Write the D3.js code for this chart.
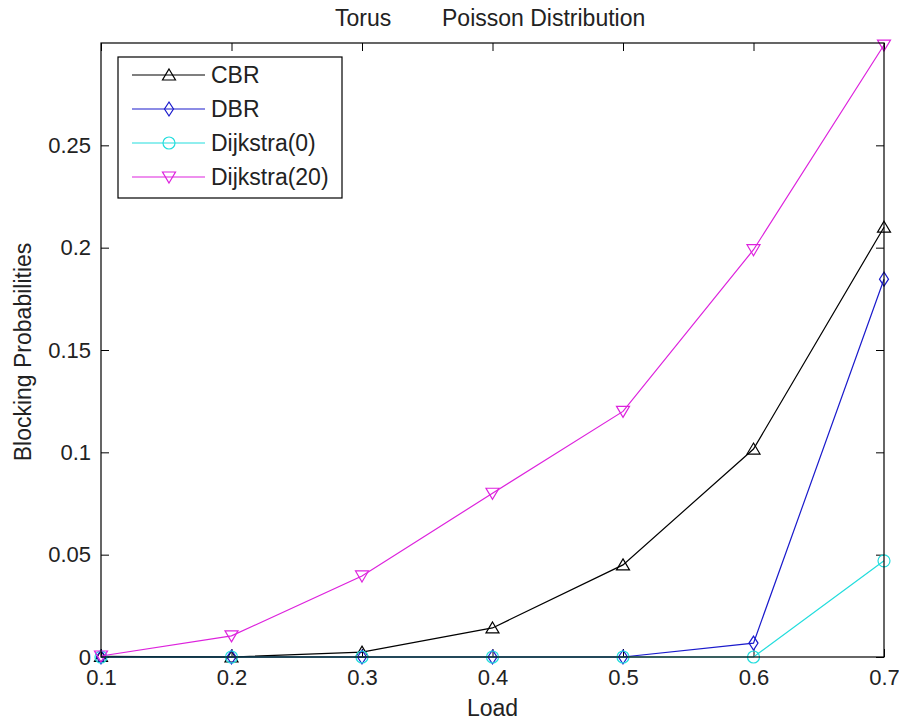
<!DOCTYPE html>
<html><head><meta charset="utf-8">
<script src="https://cdn.jsdelivr.net/npm/d3@7"></script>
<style>body{margin:0;background:#fff}svg{display:block}text{font-family:"Liberation Sans",Arial,sans-serif;fill:#222}</style>
</head><body>
<svg id="c" width="899" height="722"></svg>
<script>
const loads = [0.1, 0.2, 0.3, 0.4, 0.5, 0.6, 0.7];
const cbr = [0.0003, 0, 0.0024, 0.0142, 0.045, 0.1016, 0.21];
const dbr = [0, 0, 0, 0, 0, 0.0068, 0.1846];
const dijkstra0 = [0, 0, 0, 0, 0, 0, 0.047];
const dijkstra20 = [0.0005, 0.0103, 0.0396, 0.080, 0.120, 0.199, 0.299];
const seriesNames = ["CBR", "DBR", "Dijkstra(0)", "Dijkstra(20)"];
const xTicks = [0.1, 0.2, 0.3, 0.4, 0.5, 0.6, 0.7];
const yTicks = [0, 0.05, 0.1, 0.15, 0.2, 0.25];
const titleLeft = "Torus", titleRight = "Poisson Distribution";
const xLabel = "Load", yLabel = "Blocking Probabilities";

const series = [
  {name: seriesNames[0], values: cbr, color: "#000000", marker: "up"},
  {name: seriesNames[1], values: dbr, color: "#1a1acc", marker: "diamond"},
  {name: seriesNames[2], values: dijkstra0, color: "#22dddd", marker: "circle"},
  {name: seriesNames[3], values: dijkstra20, color: "#dd22dd", marker: "down"}
];

const L = 101, R = 884, T = 43, B = 657;
const svg = d3.select("#c");
const x = d3.scaleLinear().domain([0.1, 0.7]).range([L, R]);
const y = d3.scaleLinear().domain([0, 0.3]).range([B, T]);
const fs = 23, tfs = 22;

function markerPath(type) {
  switch (type) {
    case "up": return "M0,-6L6.5,5L-6.5,5Z";
    case "down": return "M0,6L6.5,-5L-6.5,-5Z";
    case "diamond": return "M0,-7L4.5,0L0,7L-4.5,0Z";
    default: return null;
  }
}
function drawMarker(g, type, cx, cy, color) {
  if (type === "circle") {
    g.append("circle").attr("cx", cx).attr("cy", cy).attr("r", 6)
      .attr("fill", "none").attr("stroke", color).attr("stroke-width", 1.2);
  } else {
    g.append("path").attr("d", markerPath(type)).attr("transform", `translate(${cx},${cy})`)
      .attr("fill", "none").attr("stroke", color).attr("stroke-width", 1.2);
  }
}

const fmt = d => String(d);
svg.append("g").attr("transform", `translate(0,${B})`)
  .call(d3.axisBottom(x).tickValues(xTicks).tickSize(-8).tickPadding(12).tickFormat(fmt))
  .call(g => { g.select(".domain").remove(); g.selectAll("line").attr("stroke", "#000");
    g.selectAll("text").attr("font-size", tfs).attr("font-family", "Liberation Sans, Arial").attr("fill", "#222"); });
svg.append("g").attr("transform", `translate(0,${T})`)
  .call(d3.axisTop(x).tickValues(xTicks).tickSize(-8).tickFormat(""))
  .call(g => { g.select(".domain").remove(); g.selectAll("line").attr("stroke", "#000"); });
svg.append("g").attr("transform", `translate(${L},0)`)
  .call(d3.axisLeft(y).tickValues(yTicks).tickSize(-8).tickPadding(10).tickFormat(fmt))
  .call(g => { g.select(".domain").remove(); g.selectAll("line").attr("stroke", "#000");
    g.selectAll("text").attr("font-size", tfs).attr("font-family", "Liberation Sans, Arial").attr("fill", "#222"); });
svg.append("g").attr("transform", `translate(${R},0)`)
  .call(d3.axisRight(y).tickValues(yTicks).tickSize(-8).tickFormat(""))
  .call(g => { g.select(".domain").remove(); g.selectAll("line").attr("stroke", "#000"); });

const line = d3.line().x((d, i) => x(loads[i])).y(d => y(d));
series.forEach(s => {
  const g = svg.append("g");
  g.append("path").datum(s.values).attr("d", line).attr("fill", "none")
    .attr("stroke", s.color).attr("stroke-width", 1.2);
  s.values.forEach((v, i) => drawMarker(g, s.marker, x(loads[i]), y(v), s.color));
});

svg.append("rect").attr("x", L).attr("y", T).attr("width", R - L).attr("height", B - T)
  .attr("fill", "none").attr("stroke", "#000").attr("stroke-width", 1.2);

const lg = svg.append("g");
lg.append("rect").attr("x", 118).attr("y", 57).attr("width", 224).attr("height", 141)
  .attr("fill", "#fff").attr("stroke", "#000").attr("stroke-width", 1.2);
series.forEach((s, i) => {
  const yy = 75 + i * 34;
  lg.append("line").attr("x1", 132).attr("x2", 205).attr("y1", yy).attr("y2", yy)
    .attr("stroke", s.color).attr("stroke-width", 1.2);
  drawMarker(lg, s.marker, 169, yy, s.color);
  lg.append("text").attr("x", 211).attr("y", yy + 8).attr("font-size", fs).text(s.name);
});

svg.append("text").attr("x", 335).attr("y", 26).attr("font-size", fs).text(titleLeft);
svg.append("text").attr("x", 442).attr("y", 26).attr("font-size", fs).text(titleRight);
svg.append("text").attr("x", (L + R) / 2).attr("y", 716).attr("text-anchor", "middle")
  .attr("font-size", fs).text(xLabel);
svg.append("text").attr("transform", `translate(31,352) rotate(-90)`).attr("text-anchor", "middle")
  .attr("font-size", fs).text(yLabel);
</script>
</body></html>
